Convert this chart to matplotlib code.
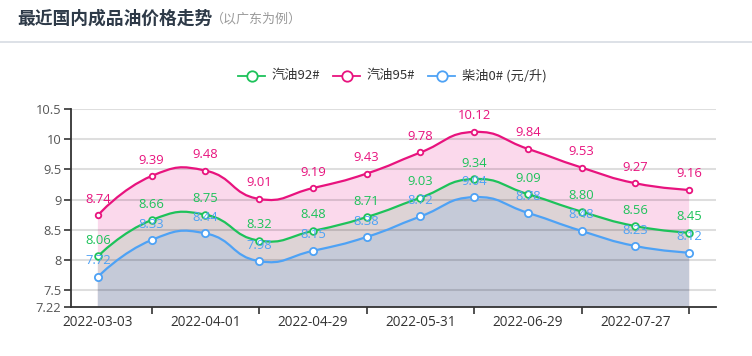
import numpy as np
import matplotlib.pyplot as plt
from matplotlib.path import Path
from matplotlib.patches import PathPatch
from matplotlib.lines import Line2D

plt.rcParams['font.family'] = ['Open Sans', 'Noto Sans CJK SC', 'DejaVu Sans']

# 12 price adjustment dates, only every other one is labelled
x_labels = ['2022-03-03', '2022-04-01', '2022-04-29', '2022-05-31', '2022-06-29', '2022-07-27']
gas92 = [8.06, 8.66, 8.75, 8.32, 8.48, 8.71, 9.03, 9.34, 9.09, 8.80, 8.56, 8.45]
gas95 = [8.74, 9.39, 9.48, 9.01, 9.19, 9.43, 9.78, 10.12, 9.84, 9.53, 9.27, 9.16]
diesel0 = [7.72, 8.33, 8.44, 7.98, 8.15, 8.38, 8.72, 9.04, 8.78, 8.48, 8.23, 8.12]
y_ticks = [7.22, 7.5, 8, 8.5, 9, 9.5, 10, 10.5]
y_min, y_max = 7.22, 10.5

c92, c95, c0 = '#1dc25a', '#e8137e', '#4ea2f5'
W, H = 752, 356
cjk = ['Noto Sans CJK SC', 'DejaVu Sans']


def smooth_verts(xs, ys, sx=53.75, sy=60.0, s=0.5):
    # echarts-like smooth bezier, computed in pixel space
    p = np.column_stack([np.asarray(xs, float) * sx, np.asarray(ys, float) * sy])
    n = len(p)
    cp_in, cp_out = [p[0]] * n, [p[0]] * n
    cp_out[0] = p[0]
    cp_in[-1] = p[-1]
    for i in range(1, n - 1):
        v = (p[i + 1] - p[i - 1]) * s
        d0 = np.hypot(*(p[i] - p[i - 1]))
        d1 = np.hypot(*(p[i + 1] - p[i]))
        r = d1 / (d0 + d1)
        cp_out[i] = p[i] + v * r
        cp_in[i] = p[i] - v * (1 - r)
    verts = [p[0]]
    codes = [Path.MOVETO]
    for i in range(n - 1):
        verts += [cp_out[i], cp_in[i + 1], p[i + 1]]
        codes += [Path.CURVE4] * 3
    return np.array(verts) / [sx, sy], codes


fig = plt.figure(figsize=(W / 100, H / 100), dpi=100)
ax = fig.add_axes([71 / W, 1 - 307 / H, (716 - 71) / W, (307 - 109) / H])
xs = np.arange(len(gas92))

series = [
    (gas95, c95, '#fbd9ec', 4.0),
    (gas92, c92, '#ddd3d5', 4.8),
    (diesel0, c0, '#c5cad8', 5.2),
]
for i, (vals, col, fillc, ms) in enumerate(series):
    v, c = smooth_verts(xs, vals)
    fv = np.vstack([v, [[xs[-1], y_min], [xs[0], y_min], [xs[0], v[0][1]]]])
    fc = c + [Path.LINETO, Path.LINETO, Path.CLOSEPOLY]
    ax.add_patch(PathPatch(Path(fv, fc), facecolor=fillc, edgecolor='none', zorder=1 + i * 0.1))

for yt in y_ticks[1:]:
    ax.axhline(yt, color='black', alpha=0.13, lw=1.5, zorder=2)

for vals, col, fillc, ms in series:
    v, c = smooth_verts(xs, vals)
    ax.add_patch(PathPatch(Path(v, c), facecolor='none', edgecolor=col, lw=1.6, zorder=3))
    ax.plot(xs, vals, 'o', ms=ms, mfc='white', mec=col, mew=1.3, zorder=4)

for vals, col, fillc, ms in series:
    for x, y in zip(xs, vals):
        ax.annotate(f'{y:.2f}', (x, y), xytext=(0, 11.5), textcoords='offset points',
                    ha='center', va='center', color=col, fontsize=9.4, zorder=5)

ax.set_xlim(-0.5, 11.5)
ax.set_ylim(y_min, y_max)
ax.set_yticks(y_ticks)
ax.set_yticklabels(['7.22', '7.5', '8', '8.5', '9', '9.5', '10', '10.5'])
ax.set_xticks(xs[::2])
ax.set_xticklabels(x_labels)
ax.set_xticks(xs[1::2], minor=True)
ax.tick_params(axis='x', which='major', length=0, pad=6, labelsize=9.8, labelcolor='#333333')
ax.tick_params(axis='x', which='minor', length=5, width=1.2, color='#333333')
ax.tick_params(axis='y', length=5, width=1.2, color='#333333', labelsize=9.3,
               labelcolor='#555555', pad=2)
for side in ['top', 'right']:
    ax.spines[side].set_visible(False)
for side in ['left', 'bottom']:
    ax.spines[side].set_color('#333333')
    ax.spines[side].set_linewidth(1.3)

# title and separator
fig.text(17 / W, 1 - 19 / H, '最近国内成品油价格走势', fontsize=12.8, fontweight='bold',
         color='#2e3a48', va='center', ha='left', family=cjk)
fig.text(211 / W, 1 - 19 / H, '（以广东为例）', fontsize=9.4, color='#9a9a9a',
         va='center', ha='left', family=cjk)
fig.add_artist(Line2D([0, 1], [1 - 42 / H] * 2, color='#d3d8e0', lw=1.1))

# legend
legend = [('汽油92#', c92, 238), ('汽油95#', c95, 333), ('柴油0# (元/升)', c0, 428)]
ly = 1 - 76 / H
for name, col, x0 in legend:
    fig.add_artist(Line2D([x0 / W, (x0 + 27) / W], [ly, ly], color=col, lw=1.3))
    fig.add_artist(Line2D([(x0 + 13.5) / W], [ly], marker='o', ms=7.5, mfc='white',
                          mec=col, mew=1.3))
    fig.text((x0 + 34) / W, ly, name, fontsize=9.5, color='#333333', va='center', ha='left',
             family=cjk)

fig.savefig('out.png', dpi=100)
